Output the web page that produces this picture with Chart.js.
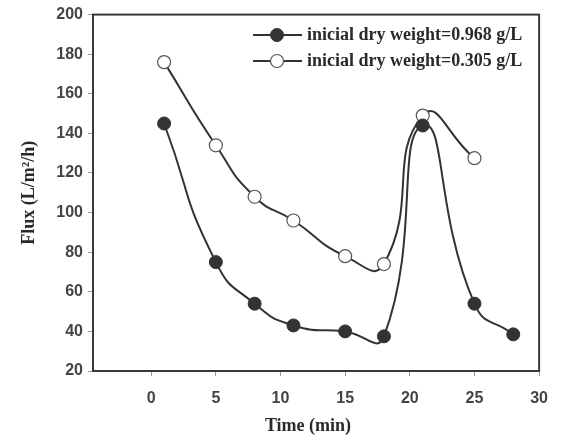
<!DOCTYPE html>
<html>
<head>
<meta charset="utf-8">
<script src="https://cdn.jsdelivr.net/npm/chart.js@4/dist/chart.umd.min.js"></script>
<style>
  body { margin: 0; background: #fff; }
  #wrap { width: 561px; height: 440px; }
</style>
</head>
<body>
<div id="wrap"><canvas id="fluxChart" width="561" height="440"></canvas></div>
<script>
// data
const timesHigh = [1, 5, 8, 11, 15, 18, 21, 25, 28];
const fluxHigh = [145, 75, 54, 43, 40, 37.5, 144, 54, 38.5];
const timesLow = [1, 5, 8, 11, 15, 18, 21, 25];
const fluxLow = [176, 134, 108, 96, 78, 74, 149, 127.5];
const seriesLabels = ['inicial dry weight=0.968 g/L', 'inicial dry weight=0.305 g/L'];
const xTicks = [0, 5, 10, 15, 20, 25, 30];
const xTitle = 'Time (min)';
const yTitle = 'Flux (L/m\u00B2/h)';

const INK = '#333333';
const TICK_FONT = { family: '"Liberation Sans", Arial, sans-serif', size: 16, weight: 'bold' };

function toPoints(xs, ys) {
    return xs.map((x, i) => ({ x: x, y: ys[i] }));
}

// frame, legend and x title drawn on top
const framePlugin = {
    id: 'frame',
    afterDraw(chart) {
        const { ctx, chartArea } = chart;
        ctx.save();
        ctx.strokeStyle = '#3a3a3a';
        ctx.lineWidth = 2;
        ctx.strokeRect(chartArea.left, chartArea.top, chartArea.right - chartArea.left, chartArea.bottom - chartArea.top);

        // legend inside the plot
        chart.data.datasets.forEach((ds, i) => {
            const y = 35 + i * 26;
            ctx.strokeStyle = ds.borderColor;
            ctx.lineWidth = 2;
            ctx.beginPath();
            ctx.moveTo(253, y);
            ctx.lineTo(302, y);
            ctx.stroke();
            ctx.beginPath();
            ctx.arc(277, y, ds.pointRadius, 0, Math.PI * 2);
            ctx.fillStyle = ds.pointBackgroundColor;
            ctx.fill();
            ctx.lineWidth = ds.pointBorderWidth;
            ctx.strokeStyle = ds.pointBorderColor;
            ctx.stroke();
            ctx.fillStyle = '#2a2a2a';
            ctx.font = 'bold 18px "Liberation Serif", "Times New Roman", serif';
            ctx.textAlign = 'left';
            ctx.textBaseline = 'middle';
            ctx.fillText(ds.label, 307, y);
        });

        ctx.fillStyle = '#2a2a2a';
        ctx.font = 'bold 18px "Liberation Serif", "Times New Roman", serif';
        ctx.textAlign = 'center';
        ctx.textBaseline = 'middle';
        ctx.fillText(xTitle, 308, 426);
        ctx.restore();
    }
};

const ctx = document.getElementById('fluxChart').getContext('2d');
const fluxChart = new Chart(ctx, {
    type: 'line',
    data: {
        datasets: [{
            label: seriesLabels[0],
            data: toPoints(timesHigh, fluxHigh),
            borderColor: INK,
            borderWidth: 2,
            tension: 0.55,
            pointRadius: 6.5,
            pointBackgroundColor: INK,
            pointBorderColor: INK,
            pointBorderWidth: 1
        }, {
            label: seriesLabels[1],
            data: toPoints(timesLow, fluxLow),
            borderColor: INK,
            borderWidth: 2,
            tension: 0.55,
            pointRadius: 6.5,
            pointBackgroundColor: '#ffffff',
            pointBorderColor: '#555555',
            pointBorderWidth: 1.2
        }]
    },
    options: {
        responsive: false,
        animation: false,
        layout: { padding: { top: 14, right: 16, left: 0, bottom: 0 } },
        plugins: {
            legend: { display: false },
            tooltip: { enabled: false }
        },
        scales: {
            x: {
                type: 'linear',
                min: -4.5,
                max: 30,
                afterBuildTicks: (scale) => {
                    scale.ticks = xTicks.map(v => ({ value: v }));
                },
                afterFit: (scale) => { scale.height = 69; },
                grid: { drawOnChartArea: false, tickLength: 5, tickColor: '#999', tickWidth: 1 },
                border: { color: '#3a3a3a', width: 2 },
                ticks: {
                    padding: 13,
                    color: '#444',
                    font: TICK_FONT
                }
            },
            y: {
                min: 20,
                max: 200,
                afterFit: (scale) => { scale.width = 93; },
                grid: { drawOnChartArea: false, tickLength: 5, tickColor: '#999', tickWidth: 1 },
                border: { color: '#3a3a3a', width: 2 },
                ticks: {
                    stepSize: 20,
                    padding: 5,
                    color: '#444',
                    font: TICK_FONT
                },
                title: {
                    display: true,
                    text: yTitle,
                    color: '#2a2a2a',
                    padding: { top: 19, bottom: 0 },
                    font: { family: '"Liberation Serif", "Times New Roman", serif', size: 18, weight: 'bold' }
                }
            }
        }
    },
    plugins: [framePlugin]
});
</script>
</body>
</html>
